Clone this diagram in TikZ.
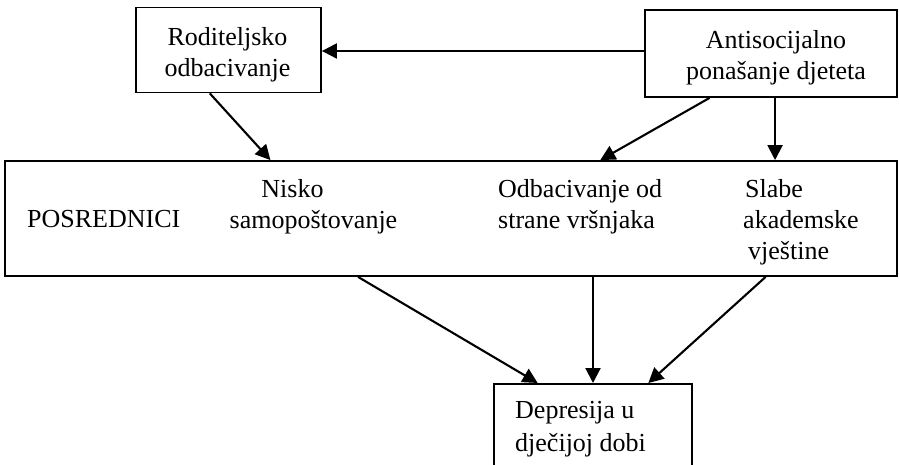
\documentclass[tikz,border=0pt]{standalone}
\usepackage{fontspec}
\setmainfont{Liberation Serif}
\usetikzlibrary{calc,arrows.meta}
\tikzset{
  box/.style={draw, line width=1.8pt, inner sep=0pt},
  txt/.style={align=center, inner sep=0pt, font=\fontsize{26}{31}\selectfont},
  arr/.style={line width=2.1pt, -{Triangle[length=15pt,width=15pt]}}
}

\begin{document}
\begin{tikzpicture}[x=1pt, y=-1pt]
		%%%%% START %%%%%
		\useasboundingbox (0,0) rectangle (899,465);
		\clip (0,0) rectangle (899,465);
		
		\node[box, minimum width=185, minimum height=85] (rod) at (228.5,50) {};
		\node[txt] (rodtxt) at (227.5,54.5) {Roditeljsko\\odbacivanje};
		
		\node[box, minimum width=252, minimum height=87] (anti) at (771,53.5) {};
		\node[txt] (antitxt) at (776,57.5) {Antisocijalno\\ponašanje djeteta};
		
		\node[box, minimum width=892, minimum height=115] (mid) at (451,218.5) {};
		\node[txt, anchor=west] (posr) at (27,219.3) {POSREDNICI};
		\node[txt] (nisko) at (313.5,206.5) {\hspace*{-42pt}Nisko\\samopoštovanje};
		\node[txt, align=left, anchor=west] (odb) at (498,206.5) {Odbacivanje od\\strane vršnjaka};
		\node[txt, align=left, anchor=west] (slabe) at (743,222) {\hspace*{2pt}Slabe\\akademske\\\hspace*{5pt}vještine};
		
		\node[box, minimum width=198, minimum height=110, anchor=north] (dep) at (593,383) {};
		\node[txt, align=left, anchor=west] (deptxt) at (515,429.5) {Depresija u\\[2pt]dječijoj dobi};
		
		% arrows
		\coordinate (a2) at ($(anti.south west)!0.516!(anti.south east)$);
		\draw[arr] (anti.west |- 0,51) -- (rod.east |- 0,51);
		\draw[arr] ($(rod.south west)!0.40!(rod.south east)$) -- ($(mid.north west)!0.298!(mid.north east)$);
		\draw[arr] ($(anti.south west)!0.258!(anti.south east)$) -- ($(mid.north west)!0.667!(mid.north east)$);
		\draw[arr] (a2) -- (a2 |- mid.north);
		
		\draw[arr] ($(mid.south west)!0.396!(mid.south east)$) -- ($(dep.north west)!0.223!(dep.north east)$);
		\draw[arr] (dep.north |- mid.south) -- (dep.north);
		\draw[arr] ($(mid.south west)!0.852!(mid.south east)$) -- ($(dep.north west)!0.777!(dep.north east)$);
		
		%%%%% END %%%%%
	\end{tikzpicture}
\end{document}
